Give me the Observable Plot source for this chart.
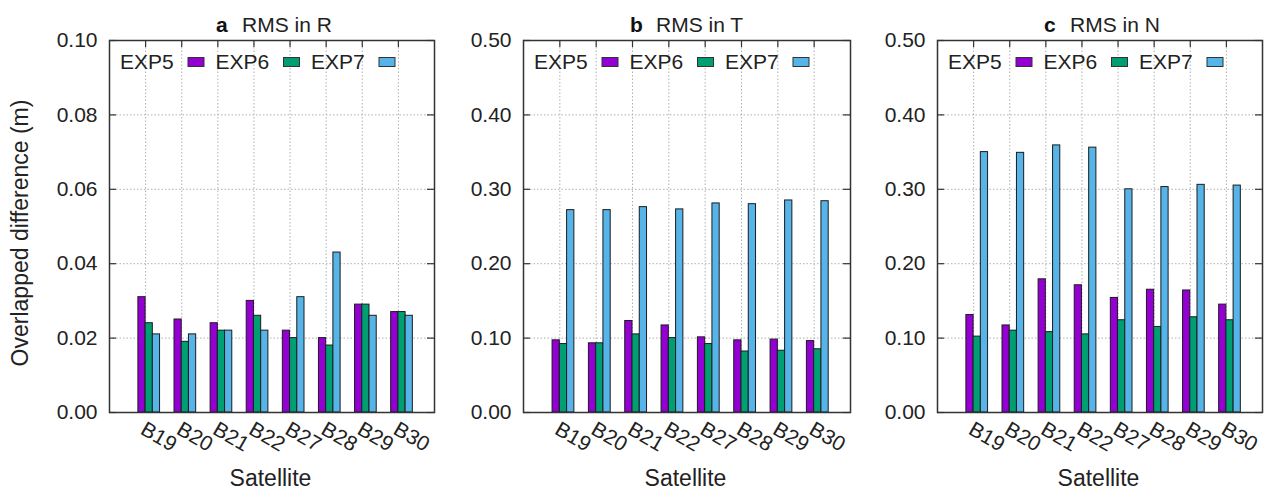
<!DOCTYPE html>
<html><head><meta charset="utf-8">
<script src="https://cdn.jsdelivr.net/npm/d3@7"></script>
<script src="https://cdn.jsdelivr.net/npm/@observablehq/plot@0.6"></script>
<style>
body{margin:0;background:#fff;}
#chart{display:flex;width:1269px;height:492px;overflow:hidden;}
#chart svg{flex:none;}
</style></head><body><div id="chart"></div>
<script>
const satellites = ["B19","B20","B21","B22","B27","B28","B29","B30"];
const seriesNames = ["EXP5","EXP6","EXP7"];
const seriesColors = ["#9400d3","#009e73","#56b4e9"];
const yTicksR = [0, 0.02, 0.04, 0.06, 0.08, 0.10];
const yTicksTN = [0, 0.1, 0.2, 0.3, 0.4, 0.5];

const rmsR_EXP5 = [0.031, 0.025, 0.024, 0.030, 0.022, 0.020, 0.029, 0.027];
const rmsR_EXP6 = [0.024, 0.019, 0.022, 0.026, 0.020, 0.018, 0.029, 0.027];
const rmsR_EXP7 = [0.021, 0.021, 0.022, 0.022, 0.031, 0.043, 0.026, 0.026];

const rmsT_EXP5 = [0.097, 0.093, 0.123, 0.117, 0.101, 0.097, 0.098, 0.096];
const rmsT_EXP6 = [0.092, 0.093, 0.105, 0.100, 0.092, 0.082, 0.083, 0.085];
const rmsT_EXP7 = [0.272, 0.272, 0.276, 0.273, 0.281, 0.280, 0.285, 0.284];

const rmsN_EXP5 = [0.131, 0.117, 0.179, 0.171, 0.154, 0.165, 0.164, 0.145];
const rmsN_EXP6 = [0.102, 0.110, 0.108, 0.105, 0.124, 0.115, 0.128, 0.124];
const rmsN_EXP7 = [0.350, 0.349, 0.359, 0.356, 0.300, 0.303, 0.306, 0.305];

const FONT = '"Liberation Sans", Arial, Helvetica, sans-serif';

function panel({series, yDomain, yTicks, letter, title, width, ml, mr, ylabel}) {
  const H = 492, mt = 40, mb = 80;
  const fw = width - ml - mr, fh = H - mt - mb;
  const rows = [];
  series.forEach((vals, j) => vals.forEach((v, i) => rows.push({i, j, s: seriesNames[j], v})));
  const bw = 0.2;
  const idx = d3.range(satellites.length);
  const grid = {stroke: "#b0b0b0", strokeOpacity: 1, strokeDasharray: "1.5,2", strokeWidth: 1};
  const svg = Plot.plot({
    width, height: H, marginTop: mt, marginBottom: mb, marginLeft: ml, marginRight: mr,
    style: {fontFamily: FONT, fontSize: "21px", color: "#222", background: "#fff", overflow: "visible"},
    x: {domain: [-1, satellites.length], axis: null},
    y: {domain: yDomain, axis: null},
    color: {domain: seriesNames, range: seriesColors},
    marks: [
      Plot.ruleY(yTicks.slice(1, -1), {y: d => d, ...grid}),
      Plot.ruleX(idx, {x: d => d, ...grid}),
      Plot.tickY(yTicks, {y: d => d, insetRight: fw - 7, stroke: "#333", strokeWidth: 1.2}),
      Plot.tickY(yTicks, {y: d => d, insetLeft: fw - 7, stroke: "#333", strokeWidth: 1.2}),
      Plot.tickX(idx, {x: d => d, insetBottom: fh - 7, stroke: "#333", strokeWidth: 1.2}),
      Plot.rectY(rows, {x1: d => d.i - bw + d.j * bw, x2: d => d.i + d.j * bw, y1: 0, y2: "v",
        fill: "s", stroke: "#1c1c1c", strokeWidth: 1}),
      Plot.text(yTicks, {y: d => d, text: d => d3.format(".2f")(d), frameAnchor: "left",
        textAnchor: "end", dx: -12, fontSize: 21, fill: "#222"}),
      Plot.text(satellites, {x: (d, i) => i, text: d => d, frameAnchor: "bottom", rotate: 30,
        textAnchor: "start", lineAnchor: "middle", dx: -3, dy: 15, fontSize: 21, fill: "#222"}),
      Plot.frame({stroke: "#333", strokeWidth: 1.5})
    ]
  });
  const s = d3.select(svg);
  const txt = (x, y, str, size) => s.append("text").attr("x", x).attr("y", y)
    .attr("text-anchor", "start").attr("font-family", FONT).attr("font-size", size)
    .attr("fill", "#222").text(str);
  // title
  txt(ml + 107, 32, letter, 21).attr("font-weight", "bold").attr("fill", "#111");
  txt(ml + 133, 32, title, 21);
  // legend
  seriesNames.forEach((name, j) => {
    const x0 = ml + 11 + j * 95.5;
    txt(x0, 68.5, name, 21);
    s.append("rect").attr("x", x0 + 68).attr("y", 57.5).attr("width", 16).attr("height", 9)
      .attr("fill", seriesColors[j]).attr("stroke", "#333").attr("stroke-width", 1);
  });
  // x label
  txt(ml + fw / 2 - 1, 486, "Satellite", 23).attr("text-anchor", "middle");
  if (ylabel) {
    s.append("text").attr("transform", "translate(28,233) rotate(-90)").attr("text-anchor", "middle")
      .attr("font-family", FONT).attr("font-size", 23).attr("fill", "#222").text(ylabel);
  }
  return svg;
}

const chart = document.getElementById("chart");
chart.appendChild(panel({series: [rmsR_EXP5, rmsR_EXP6, rmsR_EXP7], yDomain: [0, 0.10], yTicks: yTicksR,
  letter: "a", title: "RMS in R", width: 470, ml: 109, mr: 36, ylabel: "Overlapped difference (m)"}));
chart.appendChild(panel({series: [rmsT_EXP5, rmsT_EXP6, rmsT_EXP7], yDomain: [0, 0.50], yTicks: yTicksTN,
  letter: "b", title: "RMS in T", width: 400, ml: 53, mr: 20}));
chart.appendChild(panel({series: [rmsN_EXP5, rmsN_EXP6, rmsN_EXP7], yDomain: [0, 0.50], yTicks: yTicksTN,
  letter: "c", title: "RMS in N", width: 399, ml: 67, mr: 7}));
</script></body></html>
